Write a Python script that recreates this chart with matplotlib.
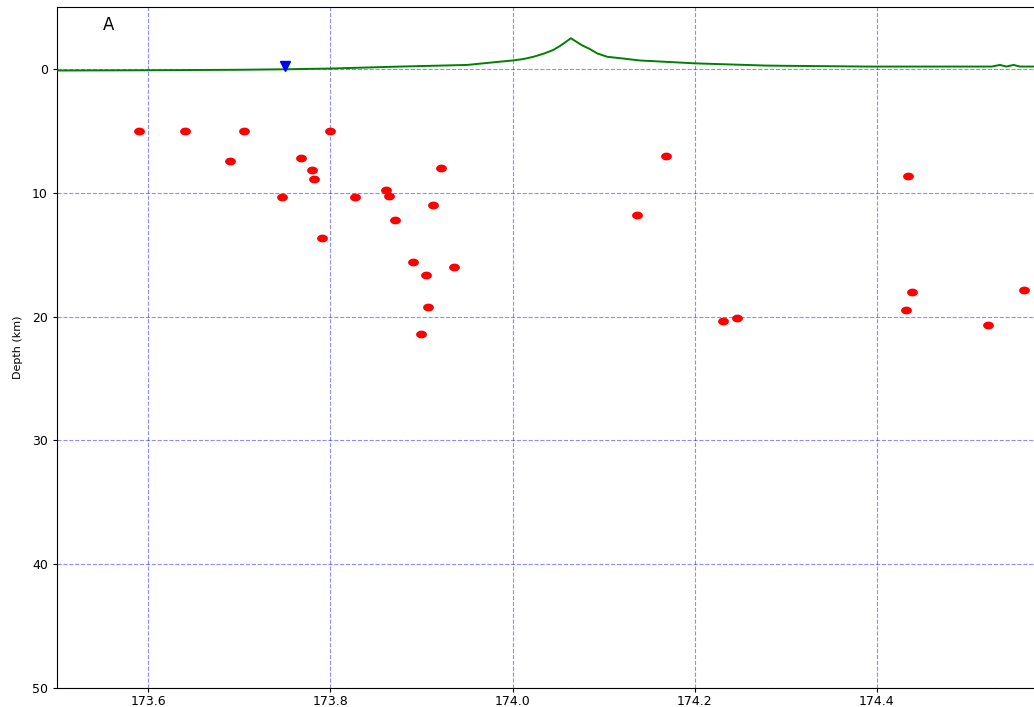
import numpy as np
import matplotlib
matplotlib.use("Agg")
import matplotlib.pyplot as plt
from matplotlib.path import Path

# Topographic profile (longitude, depth in km; negative = above sea level)
topo_lon = [173.50, 173.60, 173.70, 173.75, 173.80, 173.877, 173.95, 173.987, 174.00,
            174.012, 174.023, 174.035, 174.045, 174.052, 174.058, 174.064, 174.070,
            174.076, 174.085, 174.093, 174.104, 174.120, 174.140, 174.169, 174.200,
            174.278, 174.30, 174.39, 174.40, 174.526,
            174.535, 174.542, 174.550, 174.557, 174.575]
topo_depth = [0.13, 0.11, 0.07, 0.03, -0.03, -0.19, -0.32, -0.59, -0.68,
              -0.80, -0.98, -1.25, -1.54, -1.85, -2.15, -2.48, -2.20,
              -1.92, -1.60, -1.25, -0.98, -0.85, -0.68, -0.57, -0.45,
              -0.27, -0.25, -0.19, -0.19, -0.19,
              -0.32, -0.19, -0.32, -0.19, -0.19]

# Station
station_lon = [173.750]
station_depth = [-0.27]

# Earthquake hypocentres
eq_lon = [173.590, 173.640, 173.705, 173.690, 173.768, 173.780, 173.782, 173.747,
          173.800, 173.791, 173.827, 173.861, 173.864, 173.871, 173.921, 173.913,
          173.891, 173.936, 173.905, 173.907, 173.900, 174.168, 174.137, 174.231,
          174.246, 174.434, 174.439, 174.432, 174.522, 174.561]
eq_depth = [5.0, 5.0, 5.0, 7.47, 7.22, 8.17, 8.92, 10.38,
            5.0, 13.64, 10.38, 9.78, 10.24, 12.21, 8.0, 11.0,
            15.6, 15.96, 16.66, 19.19, 21.40, 7.03, 11.83, 20.35,
            20.08, 8.68, 17.98, 19.46, 20.67, 17.87]

x_ticks = [173.6, 173.8, 174.0, 174.2, 174.4]
y_ticks = [0, 10, 20, 30, 40, 50]

fig = plt.figure(figsize=(10.34, 7.07), dpi=100)
ax = fig.add_axes([57/1034, 1 - 688/707, 1 - 57/1034, (688 - 7)/707])

# elliptical marker (slightly wider than tall)
t = np.linspace(0, 2*np.pi, 40)
ell = Path(np.column_stack([np.cos(t), 0.72*np.sin(t)]), closed=True)

ax.plot(topo_lon, topo_depth, color='green', lw=1.4, zorder=3)
ax.plot(station_lon, station_depth, marker='v', color='blue', ls='none',
        markersize=7, zorder=4)
ax.plot(eq_lon, eq_depth, marker=ell, color='red', ls='none', markersize=7.8,
        markeredgewidth=0, zorder=4)

ax.set_xlim(173.5, 174.5724)
ax.set_ylim(50, -5)
ax.set_xticks(x_ticks)
ax.set_xticklabels([f"{v:.1f}" for v in x_ticks])
ax.set_yticks(y_ticks)
ax.tick_params(axis='x', labelsize=9, length=3, pad=2)
ax.tick_params(axis='y', labelsize=9, length=3, pad=3.5)
ax.grid(True, color='blue', alpha=0.45, ls='--', lw=0.8)
ax.set_ylabel("Depth (km)", fontsize=8)
ax.yaxis.set_label_coords(-34/977, 0.5)
ax.spines['right'].set_visible(False)
ax.text(173.5565, -3.58, "A", fontsize=12, ha='center', va='center')

fig.savefig("out.png", dpi=100)
